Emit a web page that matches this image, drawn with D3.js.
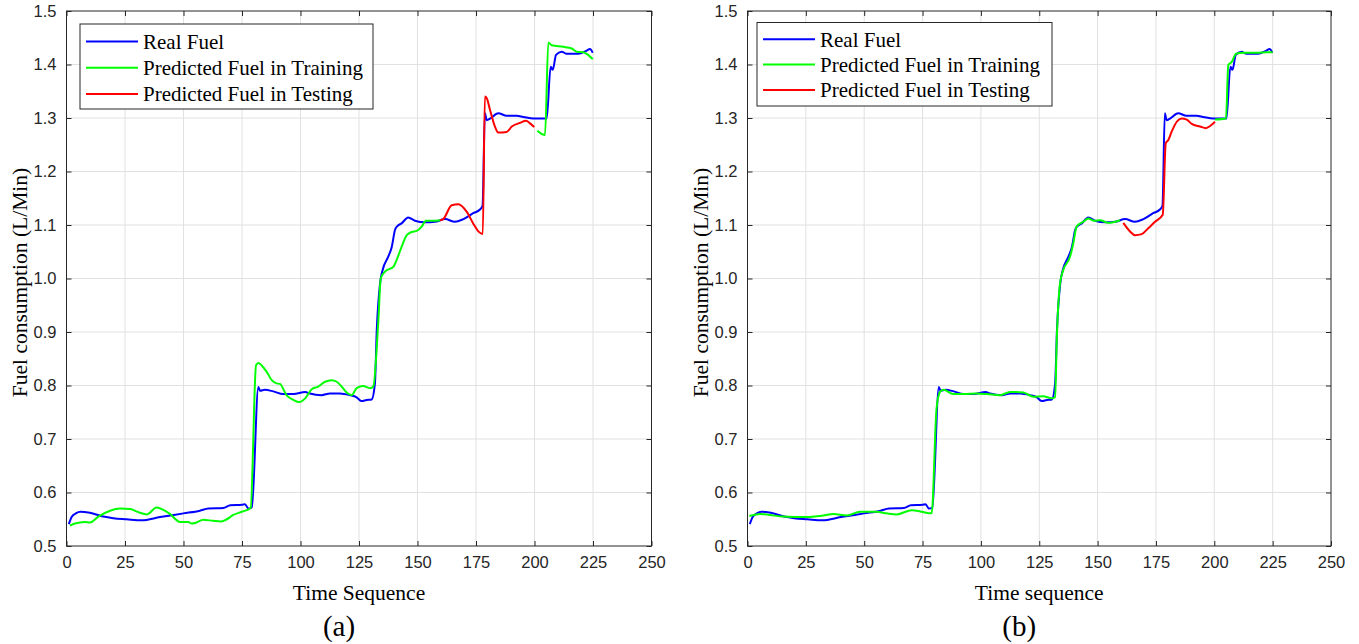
<!DOCTYPE html>
<html>
<head>
<meta charset="utf-8">
<script src="https://cdn.jsdelivr.net/npm/d3@7/dist/d3.min.js"></script>
<style>
  body { margin: 0; background: #fff; }
  svg { display: block; }
  .tick text { font-family: "Liberation Sans", Arial, sans-serif; font-size: 16.5px; fill: #262626; }
  .lbl { font-family: "Liberation Serif", "Times New Roman", serif; fill: #000; }
</style>
</head>
<body>
<svg id="chart" width="1359" height="644"></svg>
<script>
// ---- data ----
const xTicks = [0, 25, 50, 75, 100, 125, 150, 175, 200, 225, 250];
const yTicks = [0.5, 0.6, 0.7, 0.8, 0.9, 1.0, 1.1, 1.2, 1.3, 1.4, 1.5];
const seriesNames = ["Real Fuel", "Predicted Fuel in Training", "Predicted Fuel in Testing"];
const seriesColors = ["#0000ff", "#00ff00", "#ff0000"];

// real fuel, same in both panels
const realFuel = [[1,0.541],[2.2,0.554],[4,0.561],[6,0.564],[10,0.562],[15.7,0.555],[20,0.552],[25.7,0.550],
  [32,0.548],[40,0.554],[50,0.561],[57,0.566],[60.6,0.570],[67,0.571],[70,0.576],[75,0.577],[76.3,0.578],
  [77.7,0.570],[79.2,0.572],[82,0.797],[82.7,0.790],[84.8,0.792],[88.4,0.789],[92.6,0.784],[97,0.784],
  [102,0.788],[104,0.785],[109,0.782],[112.6,0.785],[116.9,0.785],[121,0.782],[124,0.778],[126,0.771],
  [128.3,0.773],[130.4,0.774],[131.8,0.804],[132.6,0.904],[134,0.991],[135.1,1.016],[137.5,1.041],
  [139,1.059],[140.4,1.091],[141.4,1.098],[143.2,1.103],[146,1.114],[148.9,1.108],[153.2,1.105],
  [157.5,1.106],[161.8,1.111],[166,1.106],[169.6,1.111],[173.8,1.122],[176.7,1.129],[177.8,1.136],
  [178.8,1.309],[179.6,1.296],[181,1.299],[184.5,1.309],[188.1,1.304],[192.4,1.304],[195.2,1.302],
  [199.5,1.299],[205.2,1.299],[206.9,1.396],[207.8,1.390],[209.2,1.418],[211.6,1.424],[213.8,1.420],
  [218.7,1.420],[222.3,1.426],[223.7,1.429],[224.9,1.422]];

// panel (a)
const trainA1 = [[1.5,0.538],[3.6,0.542],[7.9,0.545],[10,0.544],[13.6,0.555],[18.6,0.566],[22.9,0.570],
  [27.1,0.569],[31.4,0.562],[34.3,0.559],[38.5,0.572],[40.7,0.569],[44.2,0.560],[48.5,0.545],[52,0.545],
  [53.5,0.542],[55.6,0.544],[58.5,0.549],[62.7,0.547],[66.3,0.546],[68.5,0.550],[71.3,0.558],[74.9,0.564],
  [78.7,0.571],[81,0.838],[82,0.842],[83.3,0.838],[85.5,0.826],[87.7,0.810],[89.8,0.804],[91.2,0.803],
  [94,0.782],[97,0.773],[99.5,0.769],[102,0.776],[104.8,0.793],[107.6,0.798],[110.5,0.807],[113.3,0.810],
  [115.5,0.807],[117.6,0.798],[119.7,0.787],[121.9,0.782],[124,0.795],[126.8,0.799],[129.7,0.795],
  [131.1,0.798],[133.2,0.916],[134.3,1.0],[136.1,1.013],[139.7,1.022],[141.1,1.035],[143.2,1.059],
  [145.4,1.081],[147.5,1.087],[149.7,1.089],[151.8,1.097],[153.6,1.108],[156.8,1.108],[159.6,1.109]];
const trainA2 = [[201.2,1.276],[204.5,1.268],[205.9,1.441],[207.3,1.436],[212.3,1.433],[215.9,1.430],
  [218,1.424],[220.9,1.423],[222.3,1.420],[224.9,1.410]];
const testA = [[159.6,1.109],[161,1.111],[164.6,1.137],[167.5,1.139],[171,1.125],[173.8,1.103],[176,1.088],
  [177.9,1.083],[178.8,1.340],[179.6,1.337],[181,1.315],[183.1,1.284],[184.5,1.273],[188.1,1.274],
  [190.3,1.284],[193.8,1.291],[196.4,1.295],[198.1,1.290],[199.9,1.283]];

// panel (b)
const trainB1 = [[0.8,0.556],[5.4,0.560],[9.6,0.558],[15.3,0.555],[25.4,0.554],[32.5,0.557],[36.8,0.560],
  [42.5,0.557],[48.2,0.564],[55.3,0.564],[59.6,0.561],[63.9,0.559],[70.4,0.567],[74.6,0.564],[78.9,0.561],
  [81,0.757],[82.5,0.788],[83.9,0.792],[88.2,0.784],[92.5,0.784],[98.2,0.785],[102.5,0.784],[108.2,0.782],
  [112.5,0.788],[118.2,0.787],[122.5,0.779],[126.7,0.780],[130.3,0.776],[131.8,0.778],[132.5,0.885],
  [133.9,0.991],[135.3,1.016],[138.2,1.041],[139.6,1.066],[141,1.097],[143.9,1.106],[146,1.112],
  [148.5,1.108],[151,1.109],[154.6,1.104],[159.6,1.109]];
const trainB2 = [[200.3,1.297],[205,1.299],[206,1.399],[207.5,1.405],[209.3,1.420],[212.4,1.422],
  [218.2,1.422],[222.5,1.423],[225,1.423]];
const testB = [[161,1.104],[163.9,1.088],[166,1.081],[168.9,1.083],[171.7,1.094],[174.6,1.106],
  [177.9,1.119],[179.2,1.253],[180.3,1.259],[181.7,1.274],[183.9,1.293],[186,1.299],[188.2,1.297],
  [190.3,1.289],[193.9,1.284],[196.4,1.281],[198.2,1.285],[200.3,1.293]];

const svg = d3.select("#chart");

// draw one panel
function drawPanel(opt) {
  const x = d3.scaleLinear().domain([0, 250]).range([opt.left, opt.right]);
  const y = d3.scaleLinear().domain([0.5, 1.5]).range([opt.bottom, opt.top]);
  const g = svg.append("g");

  // grid
  g.append("g").selectAll("line").data(xTicks.slice(1, -1)).join("line")
    .attr("x1", d => x(d)).attr("x2", d => x(d))
    .attr("y1", opt.top).attr("y2", opt.bottom)
    .attr("stroke", "#e1e1e1").attr("stroke-width", 1);
  g.append("g").selectAll("line").data(yTicks.slice(1, -1)).join("line")
    .attr("x1", opt.left).attr("x2", opt.right)
    .attr("y1", d => y(d)).attr("y2", d => y(d))
    .attr("stroke", "#e1e1e1").attr("stroke-width", 1);

  // axes, ticks pointing inwards
  const ax = [
    [d3.axisBottom(x).tickValues(xTicks).tickFormat(d3.format("d")), `translate(0,${opt.bottom})`, true],
    [d3.axisTop(x).tickValues(xTicks).tickFormat(""), `translate(0,${opt.top})`, false],
    [d3.axisLeft(y).tickValues(yTicks).tickFormat(d3.format(".1f")), `translate(${opt.left},0)`, true],
    [d3.axisRight(y).tickValues(yTicks).tickFormat(""), `translate(${opt.right},0)`, false]
  ];
  ax.forEach(([a, tr, lab]) => {
    const ag = g.append("g").attr("transform", tr)
      .call(a.tickSizeInner(-5).tickSizeOuter(0).tickPadding(lab ? 10 : 0));
    ag.select(".domain").remove();
    ag.selectAll(".tick line").attr("stroke", "#262626");
  });
  g.append("rect")
    .attr("x", opt.left).attr("y", opt.top)
    .attr("width", opt.right - opt.left).attr("height", opt.bottom - opt.top)
    .attr("fill", "none").attr("stroke", "#262626").attr("stroke-width", 1);

  // lines
  const line = d3.line().x(d => x(d[0])).y(d => y(d[1])).curve(d3.curveMonotoneX);
  opt.series.forEach(([data, ci]) => {
    g.append("path").datum(data)
      .attr("d", line)
      .attr("fill", "none")
      .attr("stroke", seriesColors[ci])
      .attr("stroke-width", 2)
      .attr("stroke-linejoin", "round");
  });

  // axis labels
  g.append("text").attr("class", "lbl")
    .attr("x", (opt.left + opt.right) / 2).attr("y", 600)
    .attr("text-anchor", "middle").attr("font-size", 21.5)
    .text(opt.xLabel);
  g.append("text").attr("class", "lbl")
    .attr("transform", `translate(${opt.left - 40},${(opt.top + opt.bottom) / 2 + 4}) rotate(-90)`)
    .attr("text-anchor", "middle").attr("font-size", 21.5)
    .text("Fuel consumption (L/Min)");
  g.append("text").attr("class", "lbl")
    .attr("x", (opt.left + opt.right) / 2 - 20).attr("y", 636)
    .attr("text-anchor", "middle").attr("font-size", 29)
    .text(opt.caption);

  // legend
  const lg = g.append("g").attr("transform", `translate(${opt.legX},${opt.legY})`);
  lg.append("rect")
    .attr("width", opt.legW).attr("height", opt.legH)
    .attr("fill", "#fff").attr("stroke", "#262626").attr("stroke-width", 1);
  seriesNames.forEach((name, i) => {
    const yy = opt.legRow0 + i * opt.legStep;
    lg.append("line")
      .attr("x1", 6).attr("x2", 58).attr("y1", yy).attr("y2", yy)
      .attr("stroke", seriesColors[i]).attr("stroke-width", 2);
    lg.append("text").attr("class", "lbl")
      .attr("x", 63).attr("y", yy).attr("dy", "0.35em")
      .attr("font-size", 21)
      .text(name);
  });
}

drawPanel({
  left: 66.5, right: 651.5, top: 11, bottom: 546,
  xLabel: "Time Sequence", caption: "(a)",
  legX: 80, legY: 24, legW: 293, legH: 85, legRow0: 17.5, legStep: 26.3,
  series: [[realFuel, 0], [trainA1, 1], [trainA2, 1], [testA, 2]]
});
drawPanel({
  left: 747.5, right: 1331, top: 11, bottom: 546,
  xLabel: "Time sequence", caption: "(b)",
  legX: 757, legY: 22.5, legW: 295, legH: 83.5, legRow0: 16.8, legStep: 25.3,
  series: [[realFuel, 0], [trainB1, 1], [trainB2, 1], [testB, 2]]
});
</script>
</body>
</html>
